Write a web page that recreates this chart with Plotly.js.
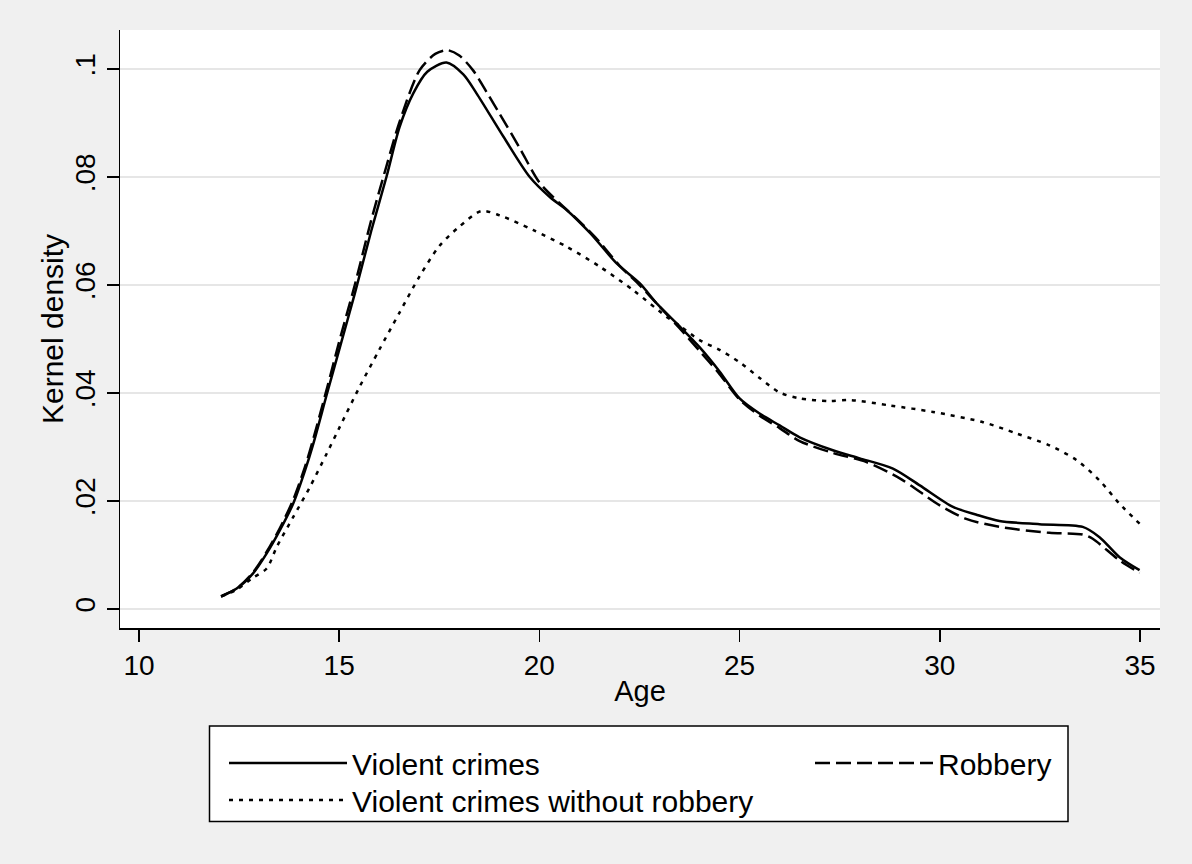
<!DOCTYPE html>
<html>
<head>
<meta charset="utf-8">
<script src="https://cdn.plot.ly/plotly-3.0.1.min.js"></script>
<style>html,body{margin:0;padding:0;background:#f0f0f0;}#chart{width:1192px;height:864px;}</style>
</head>
<body>
<div id="chart"></div>
<script>
// Violent crimes (solid)
const ageViolent = [12.05, 12.44, 12.85, 13.19, 13.52, 13.85, 14.14, 14.35, 14.7, 15.0, 15.39, 15.8, 16.18, 16.51, 16.85, 17.2, 17.68, 18.1, 18.43, 19.1, 19.76, 20.26, 20.68, 21.27, 21.93, 22.51, 22.93, 23.51, 24.0, 24.5, 25.0, 25.5, 26.0, 26.5, 27.33, 28.0, 28.83, 29.5, 30.33, 30.9, 31.49, 32.49, 33.57, 33.99, 34.49, 34.99];
const densViolent = [.0024, .0038, .0066, .0103, .0146, .0195, .0255, .0305, .040, .048, .0584, .070, .080, .0893, .0955, .0995, .1012, .0990, .0955, .0875, .080, .0763, .0739, .0696, .064, .0603, .0566, .0523, .0485, .0440, .039, .0362, .0340, .0318, .0294, .0279, .026, .0229, .0189, .0175, .0163, .0157, .0152, .0133, .0096, .0072];

// Robbery (dashed)
const ageRobbery = [12.05, 12.44, 12.85, 13.19, 13.52, 13.85, 14.14, 14.35, 14.7, 15.0, 15.39, 15.8, 16.18, 16.52, 17.01, 17.4, 17.7, 18.0, 18.34, 18.7, 19.0, 19.5, 20.0, 20.5, 21.0, 21.5, 22.0, 22.5, 23.0, 23.5, 24.0, 24.5, 25.0, 25.5, 26.0, 26.5, 27.33, 28.17, 29.0, 30.0, 30.66, 31.49, 32.74, 33.57, 33.82, 34.49, 34.99];
const densRobbery = [.0023, .0038, .0068, .0106, .015, .0202, .0262, .0314, .041, .0495, .060, .072, .082, .0905, .0998, .1028, .1035, .1025, .0998, .0955, .0918, .0855, .079, .0752, .0718, .0680, .0636, .0600, .0560, .0520, .0478, .0435, .0388, .0358, .0335, .0311, .0289, .0272, .0242, .0192, .0167, .0152, .0141, .0138, .013, .009, .0067];

// Violent crimes without robbery (dotted)
const ageNoRob = [12.05, 12.44, 12.85, 13.19, 13.44, 13.85, 14.27, 14.69, 15.0, 15.5, 16.0, 16.5, 17.0, 17.5, 18.0, 18.55, 19.01, 19.84, 20.68, 21.51, 22.35, 23.18, 23.5, 24.0, 24.5, 25.0, 25.5, 26.0, 26.5, 27.25, 27.75, 28.75, 29.83, 31.08, 31.92, 32.74, 33.41, 33.99, 34.49, 34.99];
const densNoRob = [.0023, .0036, .0058, .0075, .0115, .017, .0226, .0288, .0335, .041, .048, .0548, .0615, .0672, .0708, .0737, .0729, .0702, .0671, .0634, .059, .0541, .0525, .0498, .048, .0457, .0428, .0401, .039, .0385, .0387, .0377, .0365, .0346, .0325, .0303, .0276, .0238, .0195, .0158];

const yTickVals = [0, .02, .04, .06, .08, .1];
const yTickText = ['0', '.02', '.04', '.06', '.08', '.1'];
const xTickVals = [10, 15, 20, 25, 30, 35];
const xTickText = ['10', '15', '20', '25', '30', '35'];
const seriesNames = ['Violent crimes', 'Robbery', 'Violent crimes without robbery'];
const xTitle = 'Age';
const yTitle = 'Kernel density';

const FONT = 'Liberation Sans, Arial, Helvetica, sans-serif';

const traces = [
  {x: ageViolent, y: densViolent, name: seriesNames[0], type: 'scatter', mode: 'lines',
   line: {color: '#000', width: 2.5, shape: 'spline', smoothing: 0.8}, legend: 'legend'},
  {x: ageRobbery, y: densRobbery, name: seriesNames[1], type: 'scatter', mode: 'lines',
   line: {color: '#000', width: 2.5, dash: '15px,6px', shape: 'spline', smoothing: 0.8}, legend: 'legend2'},
  {x: ageNoRob, y: densNoRob, name: seriesNames[2], type: 'scatter', mode: 'lines',
   line: {color: '#000', width: 2.5, dash: '4px,6px', shape: 'spline', smoothing: 0.8}, legend: 'legend3'}
];

function legendCfg(xpx, ypx) {
  return {xref: 'container', yref: 'container', x: xpx / 1192, y: 1 - ypx / 864,
    xanchor: 'left', yanchor: 'middle', bgcolor: 'rgba(0,0,0,0)', borderwidth: 0,
    itemwidth: 118, font: {family: FONT, size: 30, color: '#000'}, orientation: 'v'};
}

const layout = {
  width: 1192, height: 864,
  paper_bgcolor: '#f0f0f0', plot_bgcolor: '#ffffff',
  margin: {l: 120, r: 32, t: 30, b: 236, autoexpand: false},
  font: {family: FONT, color: '#000'},
  showlegend: true,
  xaxis: {
    range: [9.526, 35.5], tickvals: xTickVals, ticktext: xTickText,
    ticks: 'outside', ticklen: 12, tickwidth: 1.5, tickcolor: '#000',
    showline: true, linecolor: '#000', linewidth: 1.5, mirror: false,
    showgrid: false, zeroline: false, automargin: false,
    tickfont: {family: FONT, size: 28, color: '#000'},
    title: {text: xTitle, font: {family: FONT, size: 29, color: '#000'}, standoff: 0}
  },
  yaxis: {
    range: [-0.00352, 0.10723], tickvals: yTickVals, ticktext: yTickText,
    ticks: 'outside', ticklen: 12, tickwidth: 1.5, tickcolor: '#000', tickangle: -90,
    showline: true, linecolor: '#000', linewidth: 1.5, mirror: false,
    showgrid: true, gridcolor: '#e6e6e6', gridwidth: 2, zeroline: false,
    tickfont: {family: FONT, size: 28, color: '#000'}
  },
  annotations: [{text: yTitle, xref: 'paper', yref: 'paper', x: (52 - 120) / 1040, y: 0.5,
    xanchor: 'center', yanchor: 'middle', textangle: -90, showarrow: false,
    font: {family: FONT, size: 30, color: '#000'}}],
  legend: legendCfg(224, 763),
  legend2: legendCfg(810, 763),
  legend3: legendCfg(224, 800),
  shapes: [{type: 'rect', xref: 'paper', yref: 'paper',
    x0: (209.5 - 120) / 1040, x1: (1068 - 120) / 1040,
    y0: (628 - 821.5) / 598, y1: (628 - 726) / 598,
    line: {color: '#000', width: 1.5}, fillcolor: '#ffffff', layer: 'below'}]
};

Plotly.newPlot('chart', traces, layout, {displayModeBar: false, staticPlot: true});
</script>
</body>
</html>
